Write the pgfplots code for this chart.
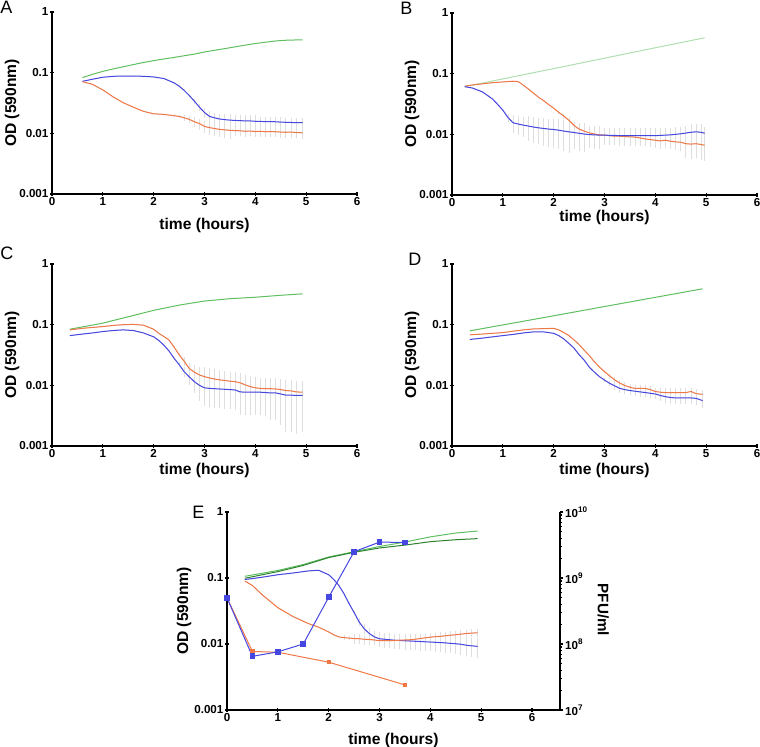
\documentclass[border=0pt]{standalone}
\usepackage{fontspec}
\setmainfont{Liberation Sans}
\usepackage{pgfplots}
\usepackage{pgfplotstable}
\pgfplotsset{compat=1.18}

\definecolor{grn}{RGB}{95,190,95}
\definecolor{palegrn}{RGB}{175,222,175}
\definecolor{dkgrn}{RGB}{45,130,45}
\definecolor{blu}{RGB}{70,70,225}
\definecolor{org}{RGB}{240,120,70}
\definecolor{ebar}{RGB}{222,222,222}

\pgfplotsset{
  every axis/.append style={
    scale only axis,
    tick align=outside, major tick length=1.6pt, minor tick length=0.9pt,
    tick style={black, line width=0.6pt},
    ticklabel style={font=\fontsize{5.8}{6}\selectfont\bfseries, inner sep=0.8pt},
  },
  odticks/.style={
    axis line style={-, line width=0.7pt},
    xtick={0,1,2,3,4,5,6}, xticklabels={0,1,2,3,4,5,6},
    ytick={0.001,0.01,0.1,1}, yticklabels={0.001,0.01,0.1,1},
    minor ytick={0.002,0.003,0.004,0.005,0.006,0.007,0.008,0.009,
      0.02,0.03,0.04,0.05,0.06,0.07,0.08,0.09,0.2,0.3,0.4,0.5,0.6,0.7,0.8,0.9},
    xlabel={time (hours)}, ylabel={OD (590nm)},
  },
  xlab/.style={xlabel style={font=\fontsize{7.8}{8}\selectfont\bfseries, anchor=center,
    at={(axis description cs:0.5,#1)}}},
  ylab/.style={ylabel style={font=\fontsize{7.8}{8}\selectfont\bfseries, anchor=center,
    at={(axis description cs:#1,0.5)}}},
}

% t  blue  orange  err_blue  err_orange
\pgfplotstableread{
t b o eb eo
0.6 0.072 0.071 0 0
0.8 0.078 0.064 0 0
1.0 0.084 0.052 0 0
1.2 0.087 0.040 0 0
1.4 0.088 0.032 0 0
1.6 0.088 0.027 0 0
1.8 0.087 0.023 0 0
2.0 0.085 0.021 0 0
2.2 0.080 0.0205 0 0
2.4 0.068 0.0195 0.001 0.001
2.5 0.060 0.019 0.002 0.001
2.6 0.051 0.018 0.002 0.002
2.7 0.042 0.017 0.003 0.002
2.8 0.034 0.0155 0.003 0.003
2.9 0.027 0.0145 0.004 0.003
3.0 0.022 0.013 0.004 0.003
3.1 0.019 0.0124 0.004 0.003
3.2 0.018 0.012 0.004 0.003
3.3 0.0172 0.0116 0.004 0.003
3.4 0.0168 0.0114 0.004 0.003
3.5 0.0165 0.0112 0.004 0.003
3.6 0.0163 0.0111 0.004 0.002
3.7 0.0162 0.0110 0.004 0.002
3.8 0.0160 0.0108 0.004 0.002
3.9 0.0160 0.0109 0.004 0.002
4.0 0.0158 0.0107 0.004 0.002
4.1 0.0157 0.0108 0.003 0.002
4.2 0.0156 0.0106 0.003 0.002
4.3 0.0156 0.0107 0.003 0.002
4.4 0.0155 0.0106 0.003 0.002
4.5 0.0153 0.0105 0.003 0.002
4.6 0.0152 0.0104 0.003 0.002
4.7 0.0151 0.0105 0.003 0.002
4.8 0.0150 0.0103 0.003 0.002
4.93 0.0150 0.0102 0.003 0.002
}\tA

\pgfplotstableread{
t b o eb eo
0.25 0.061 0.062 0 0
0.4 0.058 0.065 0 0
0.6 0.050 0.068 0 0
0.8 0.038 0.071 0 0
0.9 0.031 0.072 0 0
1.0 0.025 0.073 0 0
1.1 0.019 0.074 0.003 0
1.2 0.0155 0.075 0.005 0
1.3 0.0148 0.074 0.005 0
1.4 0.0142 0.065 0.005 0
1.5 0.0137 0.056 0.006 0
1.6 0.0132 0.048 0.006 0
1.7 0.0128 0.041 0.006 0
1.8 0.0125 0.036 0.006 0
1.9 0.0122 0.031 0.006 0
2.0 0.0120 0.027 0.006 0
2.1 0.0117 0.023 0.006 0.001
2.2 0.0113 0.020 0.006 0.002
2.3 0.0110 0.017 0.006 0.002
2.4 0.0107 0.014 0.005 0.002
2.5 0.0104 0.0122 0.005 0.002
2.6 0.0101 0.0113 0.005 0.002
2.7 0.0099 0.0106 0.004 0.002
2.8 0.0098 0.0101 0.004 0.002
2.9 0.0097 0.0098 0.004 0.002
3.0 0.0097 0.0097 0.003 0.002
3.1 0.0096 0.0095 0.003 0.002
3.2 0.0096 0.0093 0.003 0.002
3.3 0.0095 0.0093 0.003 0.002
3.4 0.0095 0.0092 0.003 0.002
3.5 0.0095 0.0091 0.003 0.002
3.6 0.0095 0.0090 0.003 0.002
3.7 0.0095 0.0087 0.003 0.002
3.8 0.0095 0.0084 0.003 0.002
3.9 0.0095 0.0082 0.003 0.002
4.0 0.0095 0.0080 0.003 0.002
4.1 0.0096 0.0078 0.003 0.002
4.2 0.0097 0.0080 0.003 0.002
4.3 0.0098 0.0077 0.003 0.002
4.4 0.0100 0.0075 0.003 0.002
4.5 0.0102 0.0074 0.003 0.002
4.6 0.0105 0.0070 0.003 0.003
4.7 0.0108 0.0069 0.004 0.003
4.8 0.0110 0.0070 0.004 0.003
4.9 0.0108 0.0068 0.004 0.003
4.97 0.0104 0.0066 0.003 0.003
}\tB

\pgfplotstableread{
t b o eb eo
0.35 0.066 0.082 0 0
0.6 0.070 0.087 0 0
0.8 0.073 0.090 0 0
1.0 0.077 0.093 0 0
1.2 0.080 0.097 0 0
1.4 0.082 0.100 0 0
1.6 0.080 0.101 0 0
1.8 0.073 0.098 0 0
2.0 0.063 0.084 0 0
2.1 0.055 0.072 0 0
2.2 0.046 0.064 0 0
2.3 0.037 0.056 0 0
2.4 0.028 0.043 0.001 0.001
2.5 0.022 0.032 0.002 0.002
2.6 0.0168 0.025 0.003 0.004
2.7 0.0138 0.019 0.0035 0.0045
2.8 0.0115 0.0165 0.004 0.005
2.9 0.0100 0.0148 0.0045 0.0055
3.0 0.0091 0.0139 0.0045 0.006
3.1 0.0089 0.0132 0.0045 0.006
3.2 0.0088 0.0127 0.0045 0.006
3.3 0.0087 0.0123 0.0045 0.0055
3.4 0.0086 0.0120 0.0045 0.0055
3.5 0.0085 0.0117 0.0045 0.005
3.6 0.0084 0.0115 0.0045 0.005
3.7 0.0078 0.0110 0.0045 0.005
3.8 0.0077 0.0102 0.0045 0.0045
3.9 0.0077 0.0095 0.0045 0.0045
4.0 0.0077 0.0091 0.0045 0.0045
4.1 0.0077 0.0089 0.0045 0.0045
4.2 0.0076 0.0088 0.0045 0.0045
4.3 0.0075 0.0088 0.0048 0.0045
4.4 0.0075 0.0087 0.0048 0.0045
4.5 0.0072 0.0085 0.005 0.004
4.6 0.0069 0.0082 0.0052 0.004
4.7 0.0069 0.0081 0.0052 0.004
4.8 0.0068 0.0078 0.0052 0.004
4.93 0.0068 0.0077 0.0051 0.004
}\tC

\pgfplotstableread{
t b o eb eo
0.35 0.057 0.068 0 0
0.6 0.060 0.070 0 0
0.8 0.063 0.072 0 0
1.0 0.066 0.074 0 0
1.2 0.069 0.078 0 0
1.4 0.073 0.082 0 0
1.6 0.076 0.085 0 0
1.8 0.076 0.086 0 0
2.0 0.072 0.087 0 0
2.1 0.066 0.082 0 0
2.2 0.058 0.074 0 0
2.3 0.049 0.066 0 0
2.4 0.041 0.056 0 0
2.5 0.032 0.047 0 0
2.6 0.026 0.038 0 0
2.7 0.020 0.031 0 0
2.8 0.0165 0.0245 0 0
2.9 0.0139 0.020 0 0
3.0 0.0122 0.0168 0.0008 0.0008
3.1 0.0108 0.0143 0.001 0.001
3.2 0.0098 0.0123 0.0013 0.0013
3.3 0.0089 0.0109 0.0013 0.0013
3.4 0.0085 0.0099 0.0013 0.0013
3.5 0.0082 0.0093 0.0013 0.0013
3.6 0.0080 0.0089 0.0013 0.0013
3.7 0.0078 0.0089 0.0013 0.0013
3.8 0.0076 0.0089 0.0013 0.0013
3.9 0.0074 0.0085 0.0013 0.0013
4.0 0.0072 0.0079 0.0013 0.0013
4.1 0.0068 0.0077 0.0013 0.0013
4.2 0.0065 0.0076 0.0013 0.0013
4.3 0.0063 0.0076 0.0013 0.0013
4.4 0.0062 0.0076 0.0013 0.0013
4.5 0.0062 0.0076 0.0013 0.0013
4.6 0.0062 0.0076 0.0013 0.0013
4.7 0.0062 0.0079 0.0013 0.0013
4.8 0.0061 0.0073 0.0013 0.0013
4.93 0.0056 0.0071 0.0013 0.0013
}\tD

\pgfplotstableread{
t b o eb eo
0.35 0.095 0.090 0 0
0.5 0.098 0.077 0 0
0.7 0.103 0.055 0 0
1.0 0.112 0.0355 0 0
1.3 0.119 0.026 0 0
1.6 0.128 0.0204 0 0
1.8 0.131 0.018 0 0
2.0 0.112 0.0152 0 0
2.1 0.095 0.0138 0 0
2.2 0.077 0.0128 0 0
2.3 0.058 0.0125 0.001 0.001
2.4 0.041 0.0123 0.002 0.001
2.5 0.030 0.0121 0.002 0.002
2.6 0.0215 0.0120 0.003 0.002
2.7 0.0170 0.0118 0.003 0.002
2.8 0.0144 0.0117 0.003 0.002
2.9 0.0128 0.0115 0.003 0.002
3.0 0.0120 0.0112 0.003 0.002
3.1 0.0118 0.0112 0.003 0.002
3.2 0.0116 0.0112 0.003 0.002
3.3 0.0114 0.0113 0.003 0.002
3.4 0.0113 0.0114 0.003 0.002
3.5 0.0112 0.0115 0.003 0.002
3.6 0.0111 0.0116 0.003 0.002
3.7 0.0110 0.0118 0.003 0.002
3.8 0.0109 0.0121 0.003 0.002
3.9 0.0108 0.0124 0.003 0.002
4.0 0.0107 0.0127 0.003 0.002
4.1 0.0106 0.0129 0.003 0.002
4.2 0.0105 0.0131 0.003 0.002
4.3 0.0104 0.0133 0.003 0.002
4.4 0.0102 0.0136 0.003 0.002
4.5 0.0101 0.0138 0.003 0.002
4.6 0.0099 0.0141 0.003 0.002
4.7 0.0096 0.0144 0.003 0.002
4.8 0.0094 0.0146 0.003 0.002
4.93 0.0092 0.0148 0.003 0.002
}\tE

\begin{document}
\begin{tikzpicture}
\useasboundingbox (0,0) rectangle (380pt,373.5pt);

% ---- A ----
\begin{axis}[at={(26pt,276.5pt)}, width=152.5pt, height=91pt,
  xmin=0, xmax=6, ymin=0.001, ymax=1, ymode=log, axis lines=left, odticks,
  xlab=-0.174, ylab=-0.131]
\addplot[ebar, line width=0.35pt, mark=none, error bars/.cd, y dir=both, y explicit, error mark=none]
  table[x=t, y=b, y error=eb]{\tA};
\addplot[ebar, line width=0.35pt, mark=none, error bars/.cd, y dir=both, y explicit, error mark=none]
  table[x=t, y=o, y error=eo]{\tA};
\addplot[grn, line width=0.5pt, mark=none] coordinates {(0.6,0.083)(0.8,0.094)(1.0,0.105)(1.2,0.115)(1.4,0.125)
  (1.6,0.136)(1.8,0.147)(2.0,0.158)(2.2,0.168)(2.4,0.178)(2.6,0.190)(2.8,0.202)
  (3.0,0.219)(3.2,0.234)(3.4,0.249)(3.6,0.266)(3.8,0.284)(4.0,0.302)(4.2,0.318)
  (4.4,0.333)(4.6,0.342)(4.8,0.346)(4.93,0.347)};
\addplot[blu, line width=0.5pt, mark=none] table[x=t, y=b]{\tA};
\addplot[org, line width=0.5pt, mark=none] table[x=t, y=o]{\tA};
\end{axis}

% ---- B ----
\begin{axis}[at={(226pt,276pt)}, width=152.5pt, height=91pt,
  xmin=0, xmax=6, ymin=0.001, ymax=1, ymode=log, axis lines=left, odticks,
  xlab=-0.125, ylab=-0.131]
\addplot[ebar, line width=0.35pt, mark=none, error bars/.cd, y dir=both, y explicit, error mark=none]
  table[x=t, y=b, y error=eb]{\tB};
\addplot[ebar, line width=0.35pt, mark=none, error bars/.cd, y dir=both, y explicit, error mark=none]
  table[x=t, y=o, y error=eo]{\tB};
\addplot[palegrn, line width=0.5pt, mark=none] coordinates {(0.25,0.061)(1,0.082)(2,0.121)(3,0.180)(4,0.267)(4.97,0.39)};
\addplot[org, line width=0.5pt, mark=none] table[x=t, y=o]{\tB};
\addplot[blu, line width=0.5pt, mark=none] table[x=t, y=b]{\tB};
\end{axis}

% ---- C ----
\begin{axis}[at={(26pt,150.5pt)}, width=152.5pt, height=91pt,
  xmin=0, xmax=6, ymin=0.001, ymax=1, ymode=log, axis lines=left, odticks,
  xlab=-0.135, ylab=-0.131]
\addplot[ebar, line width=0.35pt, mark=none, error bars/.cd, y dir=both, y explicit, error mark=none]
  table[x=t, y=b, y error=eb]{\tC};
\addplot[ebar, line width=0.35pt, mark=none, error bars/.cd, y dir=both, y explicit, error mark=none]
  table[x=t, y=o, y error=eo]{\tC};
\addplot[grn, line width=0.5pt, mark=none] coordinates {(0.35,0.084)(1,0.106)(1.5,0.135)(2,0.172)(2.5,0.21)(3,0.245)
  (3.5,0.268)(4,0.283)(4.5,0.305)(4.93,0.322)};
\addplot[org, line width=0.5pt, mark=none] table[x=t, y=o]{\tC};
\addplot[blu, line width=0.5pt, mark=none] table[x=t, y=b]{\tC};
\end{axis}

% ---- D ----
\begin{axis}[at={(226pt,150.5pt)}, width=152.5pt, height=91pt,
  xmin=0, xmax=6, ymin=0.001, ymax=1, ymode=log, axis lines=left, odticks,
  xlab=-0.135, ylab=-0.131]
\addplot[ebar, line width=0.35pt, mark=none, error bars/.cd, y dir=both, y explicit, error mark=none]
  table[x=t, y=b, y error=eb]{\tD};
\addplot[ebar, line width=0.35pt, mark=none, error bars/.cd, y dir=both, y explicit, error mark=none]
  table[x=t, y=o, y error=eo]{\tD};
\addplot[grn, line width=0.5pt, mark=none] coordinates {(0.35,0.079)(1,0.099)(2,0.140)(3,0.199)(4,0.282)(4.93,0.39)};
\addplot[org, line width=0.5pt, mark=none] table[x=t, y=o]{\tD};
\addplot[blu, line width=0.5pt, mark=none] table[x=t, y=b]{\tD};
\end{axis}

% ---- E (OD, left axis) ----
\begin{axis}[at={(113.5pt,18.5pt)}, width=166.5pt, height=99pt,
  xmin=0, xmax=6.55, ymin=0.001, ymax=1, ymode=log, axis lines=left, odticks,
  xlab=-0.152, ylab=-0.129]
\addplot[ebar, line width=0.35pt, mark=none, error bars/.cd, y dir=both, y explicit, error mark=none]
  table[x=t, y=b, y error=eb]{\tE};
\addplot[ebar, line width=0.35pt, mark=none, error bars/.cd, y dir=both, y explicit, error mark=none]
  table[x=t, y=o, y error=eo]{\tE};
\addplot[grn, line width=0.5pt, mark=none] coordinates {(0.35,0.106)(1,0.13)(1.5,0.16)(2,0.208)(2.5,0.25)(3,0.30)
  (3.5,0.35)(4,0.42)(4.5,0.48)(4.93,0.515)};
\addplot[dkgrn, line width=0.5pt, mark=none] coordinates {(0.35,0.099)(1,0.125)(1.5,0.155)(2,0.204)(2.5,0.245)(3,0.285)
  (3.5,0.315)(4,0.355)(4.5,0.38)(4.93,0.395)};
\addplot[blu, line width=0.5pt, mark=none] table[x=t, y=b]{\tE};
\addplot[org, line width=0.5pt, mark=none] table[x=t, y=o]{\tE};
\end{axis}

% ---- E (PFU/ml, right axis) ----
\begin{axis}[at={(113.5pt,18.5pt)}, width=166.5pt, height=99pt,
  xmin=0, xmax=6.55, ymin=1e7, ymax=1e10, ymode=log,
  axis x line=none, axis y line*=right, axis line style={-, line width=0.7pt},
  ytick={1e7,1e8,1e9,1e10},
  yticklabels={10\textsuperscript{7},10\textsuperscript{8},10\textsuperscript{9},10\textsuperscript{10}},
  minor ytick={2e7,3e7,4e7,5e7,6e7,7e7,8e7,9e7,2e8,3e8,4e8,5e8,6e8,7e8,8e8,9e8,
    2e9,3e9,4e9,5e9,6e9,7e9,8e9,9e9},
  ylabel={PFU/ml},
  ylabel style={font=\fontsize{7.6}{8}\selectfont\bfseries, anchor=center, rotate=180,
    at={(axis description cs:1.13,0.505)}}]
\addplot[org, line width=0.5pt, mark=square*, mark size=0.8pt] coordinates {
  (0,5.0e8)(0.5,7.7e7)(1,7.5e7)(2,5.3e7)(3.5,2.4e7)};
\addplot[blu, line width=0.5pt, mark=square*, mark size=1.2pt] coordinates {
  (0,5.0e8)(0.5,6.5e7)(1,7.6e7)(1.5,1.0e8)(2,5.1e8)(2.5,2.5e9)(3,3.5e9)(3.5,3.45e9)};
\end{axis}

% panel letters
\node[anchor=north west, inner sep=0pt, font=\fontsize{9}{10}\selectfont] at (0pt,373pt) {A};
\node[anchor=north west, inner sep=0pt, font=\fontsize{9}{10}\selectfont] at (200pt,372.5pt) {B};
\node[anchor=north west, inner sep=0pt, font=\fontsize{9}{10}\selectfont] at (0pt,250pt) {C};
\node[anchor=north west, inner sep=0pt, font=\fontsize{9}{10}\selectfont] at (204pt,247pt) {D};
\node[anchor=north west, inner sep=0pt, font=\fontsize{9}{10}\selectfont] at (96pt,120.5pt) {E};
\end{tikzpicture}
\end{document}
